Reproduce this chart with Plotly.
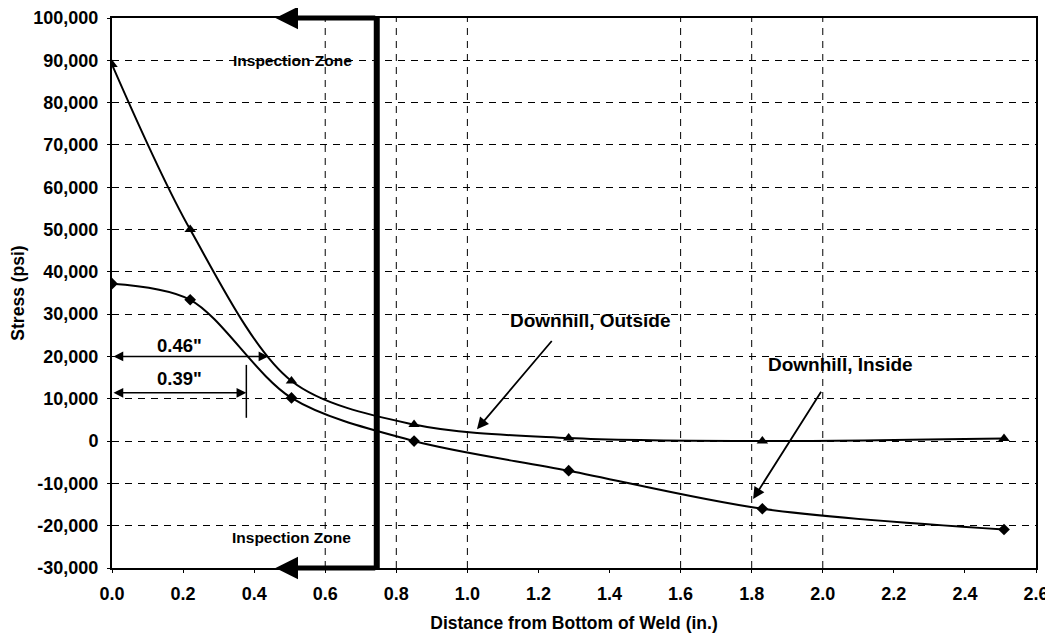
import plotly.graph_objects as go

# ---- data ----
dist = [0.0, 0.22, 0.505, 0.85, 1.285, 1.83, 2.51]
outside_stress = [89000, 50000, 14200, 3900, 700, 0, 600]
inside_stress = [37200, 33400, 10200, 0, -7000, -16000, -20900]

x_ticks = [0.0, 0.2, 0.4, 0.6, 0.8, 1.0, 1.2, 1.4, 1.6, 1.8, 2.0, 2.2, 2.4, 2.6]
x_tick_labels = ["0.0", "0.2", "0.4", "0.6", "0.8", "1.0", "1.2", "1.4", "1.6",
                 "1.8", "2.0", "2.2", "2.4", "2.6"]
y_ticks = [100000, 90000, 80000, 70000, 60000, 50000, 40000, 30000, 20000,
           10000, 0, -10000, -20000, -30000]
y_tick_labels = ["100,000", "90,000", "80,000", "70,000", "60,000", "50,000",
                 "40,000", "30,000", "20,000", "10,000", "0", "-10,000",
                 "-20,000", "-30,000"]
grid_x = [0.6, 0.8, 1.0, 1.6, 1.8, 2.0]
inspection_x = 0.745
inspection_arrow_tip = 0.46

FONT = "Liberation Sans"
fig = go.Figure()

fig.add_trace(go.Scatter(
    x=dist, y=outside_stress, mode="lines+markers", name="Downhill, Outside",
    line=dict(color="black", width=2, shape="spline", smoothing=0.9),
    marker=dict(symbol="triangle-up", size=10, color="black"),
    showlegend=False))
fig.add_trace(go.Scatter(
    x=dist, y=inside_stress, mode="lines+markers", name="Downhill, Inside",
    line=dict(color="black", width=2, shape="spline", smoothing=0.9),
    marker=dict(symbol="diamond", size=9, color="black"),
    showlegend=False))

shapes = []
for gx in grid_x:
    shapes.append(dict(type="line", xref="x", yref="y", x0=gx, x1=gx,
                       y0=y_ticks[-1], y1=y_ticks[0], layer="below",
                       line=dict(color="black", width=1, dash="7px,6px")))
# inspection zone vertical thick line
shapes.append(dict(type="line", xref="x", yref="y", x0=inspection_x, x1=inspection_x,
                   y0=y_ticks[-1], y1=y_ticks[0], line=dict(color="black", width=6)))
# 0.39" end tick
shapes.append(dict(type="line", xref="x", yref="y", x0=0.378, x1=0.378,
                   y0=5500, y1=18000, line=dict(color="black", width=1.5)))

ann = []
# inspection zone arrows
for yv in (y_ticks[0], y_ticks[-1]):
    ann.append(dict(x=inspection_arrow_tip, y=yv, ax=inspection_x, ay=yv,
                    xref="x", yref="y", axref="x", ayref="y", text="",
                    showarrow=True, arrowhead=2, arrowsize=0.9, arrowwidth=5,
                    arrowcolor="black", standoff=0))
ann.append(dict(x=0.507, y=90000, text="Inspection Zone", showarrow=False,
                xref="x", yref="y", font=dict(family=FONT, size=15.5, weight="bold")))
ann.append(dict(x=0.505, y=-22900, text="Inspection Zone", showarrow=False,
                xref="x", yref="y", font=dict(family=FONT, size=15.5, weight="bold")))
# dimension arrows
ann.append(dict(x=0.44, y=20000, ax=0.0, ay=20000, xref="x", yref="y",
                axref="x", ayref="y", text="", showarrow=True, arrowhead=2,
                arrowside="end+start", arrowwidth=1.5, arrowsize=1.3,
                arrowcolor="black"))
ann.append(dict(x=0.19, y=22600, text="0.46\"", showarrow=False, xref="x",
                yref="y", font=dict(family=FONT, size=18.5, weight="bold")))
ann.append(dict(x=0.378, y=11400, ax=0.0, ay=11400, xref="x", yref="y",
                axref="x", ayref="y", text="", showarrow=True, arrowhead=2,
                arrowside="end+start", arrowwidth=1.5, arrowsize=1.3,
                arrowcolor="black"))
ann.append(dict(x=0.19, y=14900, text="0.39\"", showarrow=False, xref="x",
                yref="y", font=dict(family=FONT, size=18.5, weight="bold")))
# series labels
ann.append(dict(x=1.345, y=28600, text="Downhill, Outside", showarrow=False,
                xref="x", yref="y", font=dict(family=FONT, size=19, weight="bold")))
ann.append(dict(x=1.027, y=2800, ax=1.241, ay=24000, xref="x", yref="y",
                axref="x", ayref="y", text="", showarrow=True, arrowhead=2,
                arrowwidth=1.8, arrowsize=1.3, arrowcolor="black"))
ann.append(dict(x=2.05, y=18200, text="Downhill, Inside", showarrow=False,
                xref="x", yref="y", font=dict(family=FONT, size=19, weight="bold")))
ann.append(dict(x=1.804, y=-13700, ax=1.998, ay=12000, xref="x", yref="y",
                axref="x", ayref="y", text="", showarrow=True, arrowhead=2,
                arrowwidth=1.8, arrowsize=1.3, arrowcolor="black"))

# page body has an 8px default margin; size the figure so the plot area lands
# where the reference has it
fig.update_layout(
    width=1045, height=629,
    margin=dict(l=104, r=17, t=10, b=69),
    paper_bgcolor="white", plot_bgcolor="white",
    font=dict(family=FONT, size=17, color="black"),
    shapes=shapes, annotations=ann,
    xaxis=dict(range=[0, 2.6], tickvals=x_ticks, ticktext=x_tick_labels,
               automargin=False, ticklabeloverflow="allow",
               showgrid=False, zeroline=False, showline=True, mirror=True,
               linecolor="black", linewidth=2, ticks="outside", ticklen=3,
               tickcolor="black", ticklabelstandoff=5,
               tickfont=dict(family=FONT, size=18, weight="bold"),
               title=dict(text="Distance from Bottom of Weld (in.)", standoff=14,
                          font=dict(family=FONT, size=17.5, weight="bold"))),
    yaxis=dict(range=[-30000, 100000], tickvals=y_ticks, ticktext=y_tick_labels,
               automargin=False, ticklabeloverflow="allow",
               showgrid=True, gridcolor="black", gridwidth=1, griddash="7px,6px",
               zeroline=False, showline=True, mirror=True,
               linecolor="black", linewidth=2, ticks="outside", ticklen=3,
               tickcolor="black", ticklabelstandoff=5,
               tickfont=dict(family=FONT, size=18, weight="bold"),
               title=dict(text="Stress (psi)", standoff=8,
                          font=dict(family=FONT, size=17.5, weight="bold"))),
)

fig.write_html("out.html")
